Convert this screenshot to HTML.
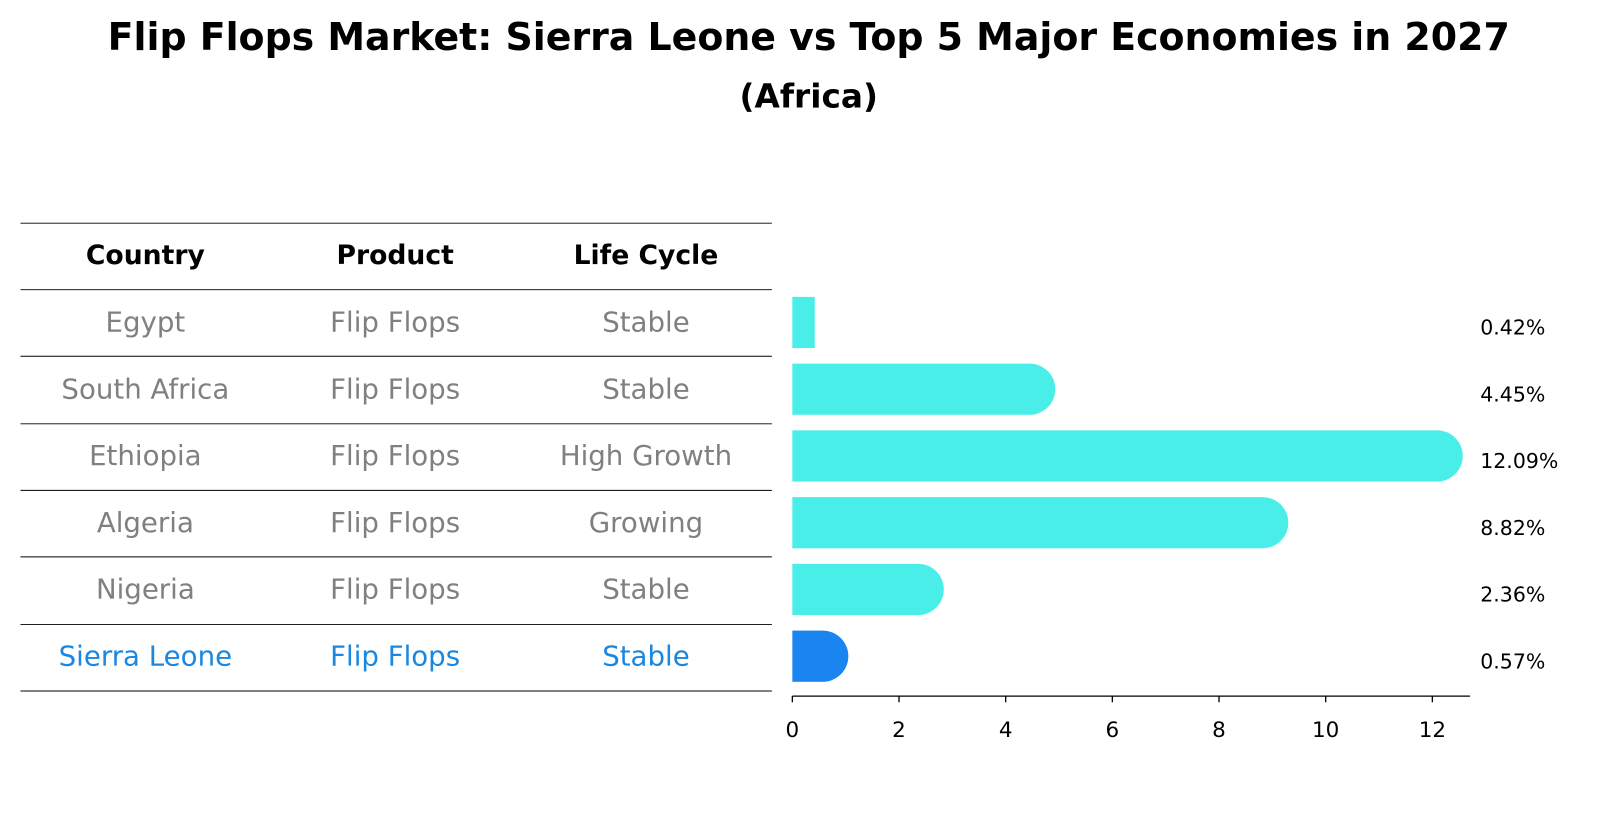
<!DOCTYPE html>
<html><head><meta charset="utf-8"><style>
body{margin:0;background:#fff;font-family:"Liberation Sans","DejaVu Sans",sans-serif;}
</style></head><body>
<svg width="1604" height="823" xmlns="http://www.w3.org/2000/svg" font-family="DejaVu Sans, Liberation Sans, sans-serif">
<g transform="scale(1.0237)">
<text x="790" y="49" text-anchor="middle" font-size="37" font-weight="bold">Flip Flops Market: Sierra Leone vs Top 5 Major Economies in 2027</text>
<text x="790" y="105" text-anchor="middle" font-size="32" font-weight="bold">(Africa)</text>
<g id="table"></g>
<g id="bars"></g>
</g>
</svg>
<script>
const countries=["Egypt","South Africa","Ethiopia","Algeria","Nigeria","Sierra Leone"];
const products=["Flip Flops","Flip Flops","Flip Flops","Flip Flops","Flip Flops","Flip Flops"];
const lifeCycles=["Stable","Stable","High Growth","Growing","Stable","Stable"];
const values=[0.42,4.45,12.09,8.82,2.36,0.57];
const valueLabels=["0.42%","4.45%","12.09%","8.82%","2.36%","0.57%"];
const xTicks=[0,2,4,6,8,10,12];
const NS="http://www.w3.org/2000/svg";
function mk(t,a,p){const e=document.createElementNS(NS,t);for(const k in a)e.setAttribute(k,a[k]);p.appendChild(e);return e;}
const x=v=>774+v*52.1;
const rowY=i=>315+i*65.2;
const tbl=document.getElementById('table'),bars=document.getElementById('bars');
const lineYs=[218,283];
for(let i=0;i<countries.length;i++)lineYs.push(Math.round(283+(i+1)*65.3));
lineYs.forEach(y=>{const l=mk('line',{x1:20,x2:754,y1:y,y2:y,stroke:'#000','stroke-width':0.9},tbl);

});
const cols=[142,386,631];
["Country","Product","Life Cycle"].forEach((h,j)=>{const t=mk('text',{x:cols[j],y:258,'text-anchor':'middle','font-size':26,'font-weight':'bold'},tbl);t.textContent=h;

});
countries.forEach((c,i)=>{const col=i===countries.length-1?'#1a87e0':'#808080';
[c,products[i],lifeCycles[i]].forEach((s,j)=>{const t=mk('text',{x:cols[j],y:rowY(i)+9,'text-anchor':'middle','font-size':27,fill:col},tbl);t.textContent=s;

});
const hl=i===countries.length-1;const fill=hl?'#1a85f0':'#4aeee8';
const y0=rowY(i)-25;
const r=mk('rect',{x:x(0),y:y0,width:x(values[i])-x(0),height:50,fill:fill},bars);


if(values[i]>=0.5){const cap=mk('path',{d:`M${x(values[i])-1},${y0} h1 a25,25 0 0 1 0,50 h-1 z`,fill:fill},bars);

}
const t=mk('text',{x:1446,y:rowY(i)+12,'font-size':20},bars);t.textContent=valueLabels[i];


});
const ax=mk('line',{x1:774,x2:1436,y1:680,y2:680,stroke:'#000','stroke-width':1.3},bars);


xTicks.forEach(v=>{const tk=mk('line',{x1:x(v),x2:x(v),y1:680,y2:686,stroke:'#000','stroke-width':1.3},bars);


const t=mk('text',{x:x(v),y:720,'text-anchor':'middle','font-size':21},bars);t.textContent=v;

});
</script>
</body></html>
